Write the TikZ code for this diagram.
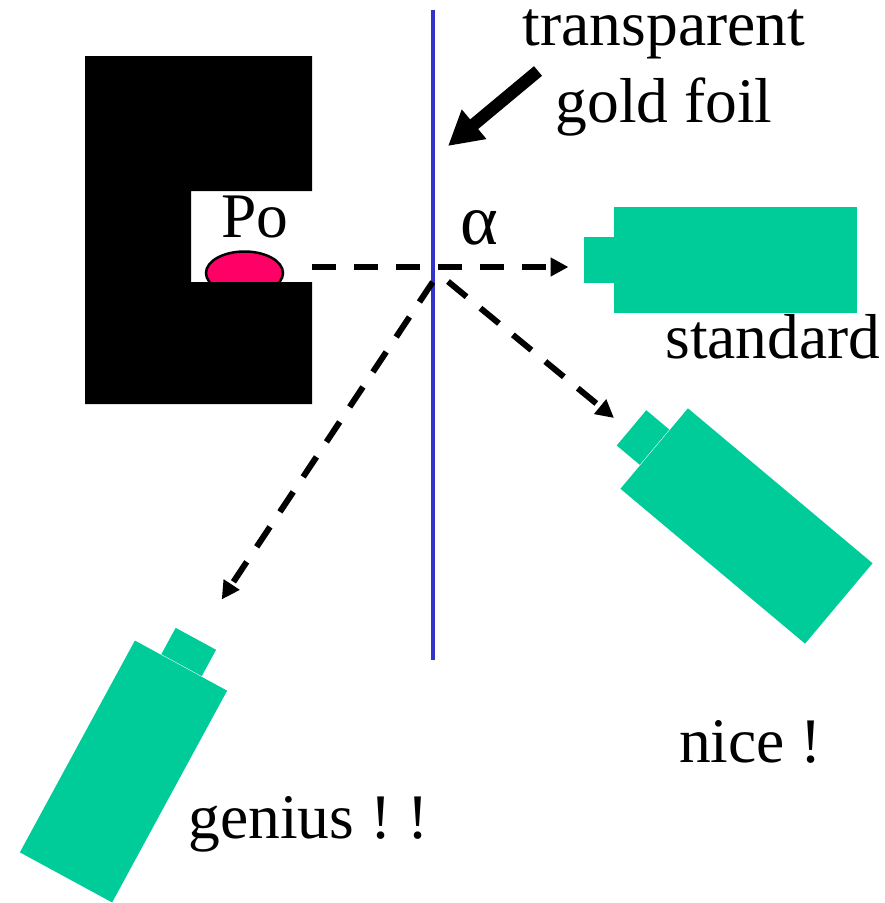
\documentclass[tikz,border=0pt]{standalone}
\usepackage{fontspec}
\setmainfont{Liberation Serif}
\usetikzlibrary{arrows.meta, shapes.geometric}
\definecolor{detgreen}{RGB}{0, 204, 153}
\definecolor{sourcepink}{RGB}{255, 0, 102}
\definecolor{foilblue}{RGB}{51, 51, 204}
\frenchspacing

\begin{document}
\begin{tikzpicture}[
  x=1pt, y=-1pt,
  detector/.style={rectangle, fill=detgreen, inner sep=0pt, minimum width=241pt, minimum height=105pt},
  nozzle/.style={rectangle, fill=detgreen, inner sep=0pt, minimum width=30pt, minimum height=46pt},
  source/.style={ellipse, draw=black, line width=2.5pt, fill=sourcepink, inner sep=0pt, minimum width=77pt, minimum height=43pt},
  beam/.style={-{Triangle[length=18pt, width=18pt]}, line width=6pt, dash pattern=on 24pt off 18pt},
  label/.style={font=\fontsize{63.5}{77}\selectfont, inner sep=0pt, anchor=base, align=center}
]
  \useasboundingbox (0, 0) rectangle (885, 903);

  \node[source] (po) at (244.5, 273) {};
  \fill[black] (85, 56) -- (312, 56) -- (312, 191) -- (191, 191) -- (191, 282) -- (312, 282) -- (312, 404) -- (85, 404) -- cycle;

  \coordinate (foiltop) at (433, 10);
  \coordinate (foilbottom) at (433, 660);
  \draw[foilblue, line width=4pt] (foiltop) -- (foilbottom);

  \node[detector, minimum width=243pt, minimum height=106pt] (standard) at (735.5, 260) {};
  \node[nozzle] (standardnozzle) at (599, 260) {};
  \node[detector, rotate=-40] (nice) at (746.5, 526) {};
  \node[nozzle, rotate=-40] (nicenozzle) at (643, 437.5) {};
  \node[detector, rotate=61.5] (genius) at (123.5, 771.5) {};
  \node[nozzle, rotate=61.5] (geniusnozzle) at (188.7, 652) {};

  \coordinate (exit) at (312, 267);
  \coordinate (standardend) at (568.5, 267);
  \coordinate (hitright) at (448, 281.5);
  \coordinate (niceend) at (614, 418);
  \coordinate (hitleft) at (432.7, 282);
  \coordinate (geniusend) at (221.7, 599.5);
  \draw[beam] (exit) -- (standardend);
  \draw[beam] (hitright) -- (niceend);
  \draw[beam] (hitleft) -- (geniusend);

  \coordinate (foiltail) at (538, 71);
  \coordinate (foiltip) at (448, 146);
  \draw[-{Triangle[length=34pt, width=36pt]}, line width=12.5pt] (foiltail) -- (foiltip);

  \node[label] (foil) at (664, 122) {transparent\\gold foil};
  \node[label] (polabel) at (255, 237) {Po};
  \node[label, font=\fontsize{72}{77}\selectfont] (alpha) at (479, 244) {α};
  \node[label] (standardlabel) at (773, 358) {standard};
  \node[label] (nicelabel) at (750.5, 762) {nice !};
  \node[label] (geniuslabel) at (308.5, 838) {genius ! !};
\end{tikzpicture}
\end{document}
